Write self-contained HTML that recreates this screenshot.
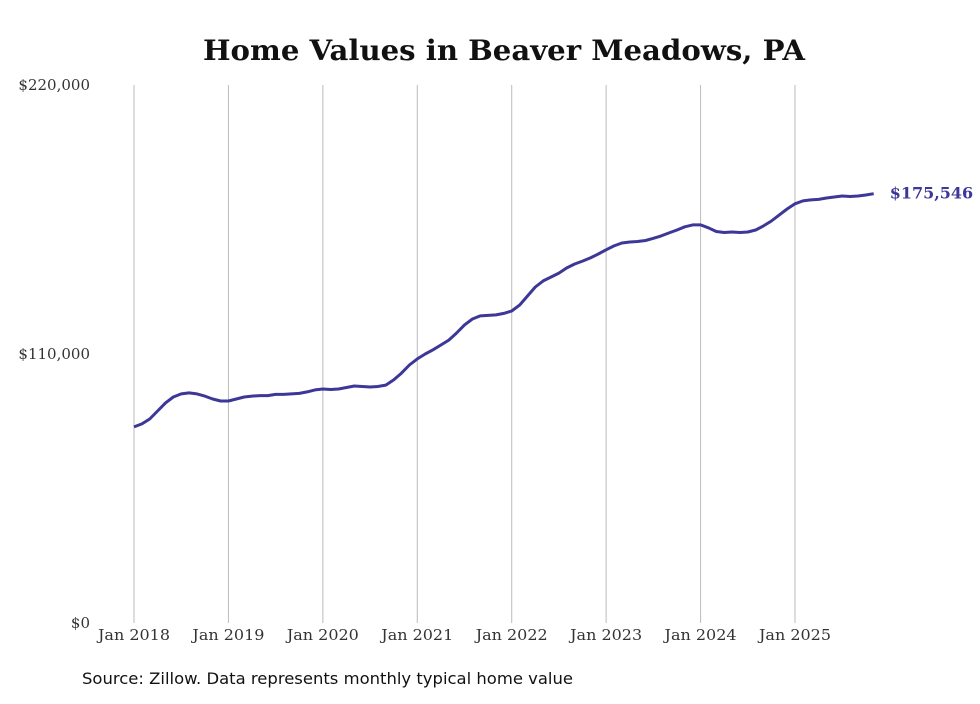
<!DOCTYPE html>
<html><head><meta charset="utf-8"><style>
body{margin:0;background:#fff;width:980px;height:699px;overflow:hidden}
svg text{font-family:"DejaVu Serif","Liberation Serif",serif}
</style></head><body>
<svg id="chart" width="980" height="699" xmlns="http://www.w3.org/2000/svg">
<text x="504" y="60" text-anchor="middle" font-size="28" font-weight="bold" fill="#111" textLength="602" lengthAdjust="spacingAndGlyphs">Home Values in Beaver Meadows, PA</text>
<g id="grid"></g><g id="yaxis"></g><g id="xaxis"></g>
<path id="line" fill="none" stroke="#3d3797" stroke-width="3" stroke-linejoin="round"/>
<text id="endlabel" font-size="16" font-weight="bold" fill="#3d3797"></text>
<text x="82" y="684" font-size="16" fill="#111" textLength="491" lengthAdjust="spacingAndGlyphs" style="font-family:'DejaVu Sans','Liberation Sans',sans-serif">Source: Zillow. Data represents monthly typical home value</text>
</svg>
<script>
const startYear = 2018;
const yearLabels = ["Jan 2018","Jan 2019","Jan 2020","Jan 2021","Jan 2022","Jan 2023","Jan 2024","Jan 2025"];
const yTicks = [0,110000,220000];
const yTickLabels = ["$0","$110,000","$220,000"];
const values = [
80.2,81.4,83.4,86.7,90,92.4,93.7,94.1,93.7,92.8,91.6,90.8,
90.8,91.6,92.4,92.8,93,93,93.5,93.5,93.7,93.9,94.5,95.3,
95.7,95.5,95.7,96.3,96.9,96.7,96.5,96.7,97.3,99.4,102.2,105.5,
108,110,111.7,113.7,115.7,118.6,121.9,124.3,125.6,125.8,126,126.6,
127.6,130,133.7,137.4,139.9,141.5,143.1,145.2,146.8,148,149.3,150.9,
152.6,154.2,155.4,155.8,156,156.4,157.3,158.3,159.5,160.7,162,162.8,
162.8,161.6,160.1,159.7,159.9,159.7,159.9,160.7,162.4,164.4,166.9,169.3,
171.4,172.6,173,173.2,173.8,174.2,174.6,174.4,174.6,175,175.546
];
const lastLabel = "$175,546";
const NS="http://www.w3.org/2000/svg";
const x = m => 134 + m*(661/84);
const y = v => 623 - v*(538/220000);
const grid=document.getElementById('grid'), xa=document.getElementById('xaxis'), ya=document.getElementById('yaxis');
yearLabels.forEach((lab,i)=>{
  const l=document.createElementNS(NS,'line');
  
  
  l.setAttribute('x1',x(i*12));l.setAttribute('x2',x(i*12));l.setAttribute('y1',85);l.setAttribute('y2',623);
  l.setAttribute('stroke','#bbb');l.setAttribute('stroke-width','1');grid.appendChild(l);
  const t=document.createElementNS(NS,'text');
  
  
  t.setAttribute('x',x(i*12));t.setAttribute('y',640);t.setAttribute('text-anchor','middle');t.setAttribute('font-size','15');t.setAttribute('fill','#333');
  t.setAttribute('textLength','72');t.setAttribute('lengthAdjust','spacingAndGlyphs');
  t.textContent=lab;xa.appendChild(t);
});
yTicks.forEach((v,i)=>{
  const t=document.createElementNS(NS,'text');
  
  
  t.setAttribute('x',90);t.setAttribute('y',y(v)+5);t.setAttribute('text-anchor','end');t.setAttribute('font-size','15');t.setAttribute('fill','#333');
  t.textContent=yTickLabels[i];ya.appendChild(t);
});
let d='';values.forEach((v,i)=>{d+=(i?'L':'M')+x(i).toFixed(1)+','+y(v*1000).toFixed(1);});
document.getElementById('line').setAttribute('d',d);
const el=document.getElementById('endlabel'), n=values.length-1;
el.setAttribute('x',x(n)+16);el.setAttribute('y',y(values[n]*1000)+5);el.textContent=lastLabel;
</script>
</body></html>
